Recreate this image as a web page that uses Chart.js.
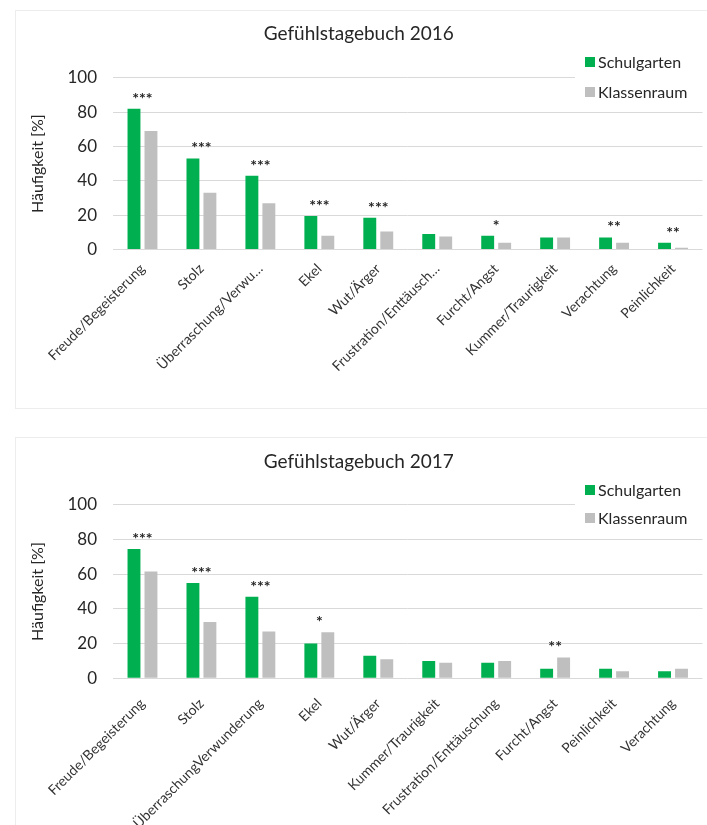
<!DOCTYPE html>
<html lang="de">
<head>
<meta charset="utf-8">
<title>Gefühlstagebuch 2016 / 2017</title>
<script src="https://cdn.jsdelivr.net/npm/chart.js@4/dist/chart.umd.min.js"></script>
<style>
  html, body { margin: 0; padding: 0; background: #fff; }
  body { width: 707px; height: 825px; position: relative; overflow: hidden; }
  .card { position: absolute; left: 15px; width: 700px; border: 1px solid #ededed; box-sizing: border-box; }
  .plot { position: absolute; left: 15px; width: 692px; }
  #card2016 { top: 10px; height: 399px; }
  #card2017 { top: 437px; height: 400px; }
  #plot2016 { top: 10px; height: 398px; }
  #plot2017 { top: 437px; height: 388px; }
  canvas { display: block; }
</style>
</head>
<body>
<div class="card" id="card2016"></div>
<div class="card" id="card2017"></div>
<div class="plot" id="plot2016"><canvas id="chart2016"></canvas></div>
<div class="plot" id="plot2017"><canvas id="chart2017"></canvas></div>
<script>
const seriesNames = ["Schulgarten", "Klassenraum"];
const yAxisTitle = "Häufigkeit [%]";

const emotions2016 = ["Freude/Begeisterung", "Stolz", "Überraschung/Verwu…", "Ekel", "Wut/Ärger",
  "Frustration/Enttäusch…", "Furcht/Angst", "Kummer/Traurigkeit", "Verachtung", "Peinlichkeit"];
const garden2016 = [82, 53, 43, 19.5, 18.5, 9, 8, 7, 7, 4];
const classroom2016 = [69, 33, 27, 8, 10.5, 7.5, 4, 7, 4, 1];
const signif2016 = ["***", "***", "***", "***", "***", "", "*", "", "**", "**"];

const emotions2017 = ["Freude/Begeisterung", "Stolz", "ÜberraschungVerwunderung", "Ekel", "Wut/Ärger",
  "Kummer/Traurigkeit", "Frustration/Enttäuschung", "Furcht/Angst", "Peinlichkeit", "Verachtung"];
const garden2017 = [74.5, 55, 47, 20, 13, 10, 9, 5.5, 5.5, 4];
const classroom2017 = [61.5, 32.5, 27, 26.5, 11, 9, 10, 12, 4, 5.5];
const signif2017 = ["***", "***", "***", "*", "", "", "", "**", "", ""];

const GREEN = "#00b050";
const GRAY = "#bfbfbf";
const GRID = "#d9d9d9";
const TEXT = "#262626";
const FONT = "Lato, 'Open Sans', sans-serif";

// significance stars centred over each pair of bars
function sigPlugin(marks) {
  return {
    id: "sigMarks",
    afterDatasetsDraw(chart) {
      const { ctx, scales: { x, y } } = chart;
      const [a, b] = chart.data.datasets;
      ctx.save();
      ctx.font = "bold 16px " + FONT;
      ctx.fillStyle = TEXT;
      ctx.textAlign = "center";
      ctx.textBaseline = "alphabetic";
      marks.forEach((m, i) => {
        if (!m) return;
        const top = y.getPixelForValue(Math.max(a.data[i], b.data[i]));
        ctx.fillText(m, x.getPixelForValue(i), top - 5);
      });
      ctx.restore();
    }
  };
}

// legend sits on a white patch in the top-right corner of the plot
function legendPlugin(rows) {
  return {
    id: "boxLegend",
    afterDraw(chart) {
      const { ctx } = chart;
      ctx.save();
      ctx.fillStyle = "#fff";
      ctx.fillRect(560, 36, chart.width - 560, 58);
      ctx.font = "16px " + FONT;
      ctx.textBaseline = "middle";
      chart.data.datasets.forEach((ds, i) => {
        ctx.fillStyle = ds.backgroundColor;
        ctx.fillRect(570, rows[i] - 5, 10, 10);
        ctx.fillStyle = TEXT;
        ctx.fillText(ds.label, 583, rows[i] + 1);
      });
      ctx.restore();
    }
  };
}

function drawDiary(canvasId, title, labels, garden, classroom, marks, opts) {
  new Chart(document.getElementById(canvasId), {
    type: "bar",
    data: {
      labels,
      datasets: [
        { label: seriesNames[0], data: garden, backgroundColor: GREEN },
        { label: seriesNames[1], data: classroom, backgroundColor: GRAY }
      ]
    },
    options: {
      responsive: true,
      maintainAspectRatio: false,
      animation: false,
      datasets: { bar: { categoryPercentage: 0.576, barPercentage: 0.76 } },
      layout: { padding: { left: 0, right: 4.5, top: 0, bottom: 0 } },
      plugins: {
        legend: { display: false },
        tooltip: { enabled: false },
        title: {
          display: true,
          text: title,
          color: TEXT,
          font: { family: FONT, size: 19, weight: "normal" },
          padding: { top: opts.titleTop, bottom: opts.titleBottom }
        }
      },
      scales: {
        x: {
          grid: { display: false },
          border: { display: false },
          ticks: {
            color: "#333",
            font: { family: FONT, size: 14 },
            minRotation: 45,
            maxRotation: 45,
            autoSkip: false,
            padding: opts.labelGap
          },
          afterFit: s => { s.height = opts.xHeight; }
        },
        y: {
          min: 0,
          max: 100,
          ticks: { stepSize: 20, color: TEXT, font: { family: FONT, size: 17 }, padding: 16 },
          grid: { color: GRID, drawTicks: false },
          border: { display: false },
          title: {
            display: true,
            text: yAxisTitle,
            color: TEXT,
            font: { family: FONT, size: 16 },
            padding: { top: 13, bottom: 0 }
          },
          afterFit: s => { s.width = 98; }
        }
      }
    },
    plugins: [sigPlugin(marks), legendPlugin(opts.legendRows)]
  });
}

drawDiary("chart2016", "Gefühlstagebuch 2016", emotions2016, garden2016, classroom2016, signif2016,
  { titleTop: 12, titleBottom: 33, xHeight: 158.5, labelGap: 3, legendRows: [52, 82] });
drawDiary("chart2017", "Gefühlstagebuch 2017", emotions2017, garden2017, classroom2017, signif2017,
  { titleTop: 13, titleBottom: 32, xHeight: 146.7, labelGap: 9, legendRows: [53, 81] });
</script>
</body>
</html>
